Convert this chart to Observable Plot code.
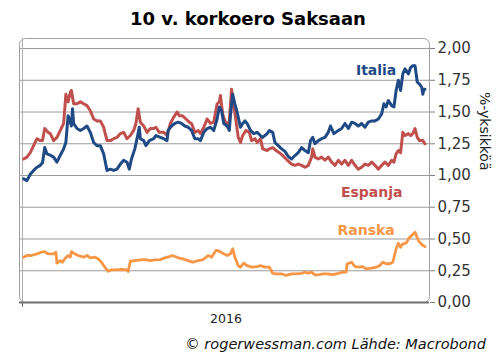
<!DOCTYPE html>
<html>
<head>
<meta charset="utf-8">
<script src="https://cdn.jsdelivr.net/npm/d3@7"></script>
<script src="https://cdn.jsdelivr.net/npm/@observablehq/plot@0.6"></script>
<style>
  html, body { margin: 0; padding: 0; background: #fff; }
  #wrap { width: 496px; height: 361px; position: relative; font-family: "DejaVu Sans", Verdana, sans-serif; }
  #title { height: 36px; line-height: 38px; text-align: center; font-weight: bold; font-size: 18px; color: #000; }
  #caption { height: 22px; line-height: 20px; text-align: right; font-style: italic; font-size: 14.5px; color: #111; padding-right: 10px; }
  svg { display: block; }
</style>
</head>
<body>
<div id="wrap">
  <div id="title">10 v. korkoero Saksaan</div>
  <div id="chart"></div>
  <div id="caption">© rogerwessman.com Lähde: Macrobond</div>
</div>
<script>
// Italia – Saksa, 10 v. korkoero (%-yksikköä)
const italiaDates = ["2016-01-02","2016-01-05","2016-01-08","2016-01-11","2016-01-14","2016-01-17","2016-01-19","2016-01-21","2016-01-23","2016-01-26","2016-01-29","2016-02-01","2016-02-04","2016-02-07","2016-02-09","2016-02-11","2016-02-12","2016-02-14","2016-02-15","2016-02-16","2016-02-19","2016-02-22","2016-02-25","2016-02-28","2016-03-02","2016-03-05","2016-03-08","2016-03-11","2016-03-14","2016-03-17","2016-03-20","2016-03-23","2016-03-26","2016-03-29","2016-04-01","2016-04-04","2016-04-06","2016-04-08","2016-04-11","2016-04-13","2016-04-15","2016-04-16","2016-04-19","2016-04-21","2016-04-24","2016-04-28","2016-04-30","2016-05-04","2016-05-07","2016-05-10","2016-05-11","2016-05-14","2016-05-17","2016-05-20","2016-05-23","2016-05-26","2016-05-29","2016-06-01","2016-06-04","2016-06-07","2016-06-09","2016-06-12","2016-06-15","2016-06-18","2016-06-21","2016-06-24","2016-06-26","2016-06-28","2016-06-30","2016-07-03","2016-07-05","2016-07-06","2016-07-08","2016-07-10","2016-07-12","2016-07-15","2016-07-17","2016-07-19","2016-07-21","2016-07-24","2016-07-27","2016-07-30","2016-08-02","2016-08-04","2016-08-08","2016-08-10","2016-08-13","2016-08-15","2016-08-18","2016-08-21","2016-08-24","2016-08-27","2016-08-30","2016-09-02","2016-09-05","2016-09-08","2016-09-11","2016-09-14","2016-09-16","2016-09-18","2016-09-20","2016-09-23","2016-09-26","2016-09-29","2016-10-02","2016-10-04","2016-10-07","2016-10-11","2016-10-14","2016-10-17","2016-10-20","2016-10-23","2016-10-26","2016-10-29","2016-11-01","2016-11-04","2016-11-07","2016-11-10","2016-11-13","2016-11-16","2016-11-19","2016-11-21","2016-11-23","2016-11-25","2016-11-28","2016-11-30","2016-12-02","2016-12-04","2016-12-06","2016-12-08","2016-12-10","2016-12-13","2016-12-15","2016-12-17","2016-12-19","2016-12-21","2016-12-23","2016-12-25","2016-12-26","2016-12-27","2016-12-28"];
const italiaValues = [0.974,0.96,1.01,1.04,1.065,1.08,1.10,1.22,1.17,1.16,1.145,1.105,1.16,1.21,1.26,1.47,1.45,1.39,1.525,1.41,1.37,1.355,1.37,1.39,1.34,1.26,1.235,1.235,1.17,1.04,1.05,1.04,1.05,1.09,1.12,1.105,1.05,1.13,1.21,1.29,1.38,1.29,1.275,1.235,1.275,1.29,1.315,1.30,1.29,1.275,1.355,1.39,1.41,1.42,1.41,1.39,1.38,1.355,1.29,1.29,1.275,1.34,1.37,1.38,1.355,1.445,1.54,1.51,1.41,1.39,1.355,1.47,1.64,1.565,1.50,1.38,1.41,1.43,1.41,1.355,1.33,1.34,1.315,1.30,1.33,1.355,1.34,1.26,1.235,1.21,1.19,1.15,1.13,1.157,1.18,1.22,1.197,1.18,1.275,1.30,1.25,1.275,1.29,1.30,1.34,1.39,1.33,1.355,1.37,1.41,1.37,1.42,1.41,1.39,1.41,1.38,1.42,1.43,1.43,1.445,1.485,1.565,1.54,1.59,1.55,1.54,1.67,1.75,1.67,1.80,1.84,1.80,1.85,1.865,1.865,1.735,1.72,1.695,1.64,1.68,1.68];

// Espanja – Saksa
const espanjaDates = ["2016-01-02","2016-01-05","2016-01-08","2016-01-11","2016-01-14","2016-01-17","2016-01-19","2016-01-21","2016-01-24","2016-01-26","2016-01-29","2016-02-01","2016-02-04","2016-02-07","2016-02-09","2016-02-11","2016-02-13","2016-02-14","2016-02-16","2016-02-19","2016-02-22","2016-02-25","2016-02-28","2016-03-02","2016-03-05","2016-03-08","2016-03-11","2016-03-14","2016-03-17","2016-03-20","2016-03-23","2016-03-26","2016-03-29","2016-04-01","2016-04-04","2016-04-07","2016-04-10","2016-04-12","2016-04-14","2016-04-16","2016-04-19","2016-04-22","2016-04-25","2016-04-28","2016-04-30","2016-05-03","2016-05-07","2016-05-10","2016-05-13","2016-05-16","2016-05-19","2016-05-21","2016-05-24","2016-05-27","2016-05-30","2016-06-01","2016-06-04","2016-06-07","2016-06-09","2016-06-12","2016-06-15","2016-06-18","2016-06-21","2016-06-24","2016-06-26","2016-06-27","2016-06-29","2016-07-01","2016-07-03","2016-07-05","2016-07-07","2016-07-09","2016-07-11","2016-07-13","2016-07-15","2016-07-17","2016-07-20","2016-07-23","2016-07-25","2016-07-28","2016-07-30","2016-08-02","2016-08-04","2016-08-08","2016-08-10","2016-08-13","2016-08-16","2016-08-19","2016-08-22","2016-08-25","2016-08-28","2016-08-30","2016-09-02","2016-09-05","2016-09-08","2016-09-11","2016-09-14","2016-09-17","2016-09-18","2016-09-20","2016-09-23","2016-09-26","2016-09-29","2016-10-02","2016-10-05","2016-10-08","2016-10-11","2016-10-14","2016-10-17","2016-10-20","2016-10-23","2016-10-26","2016-10-29","2016-11-01","2016-11-04","2016-11-07","2016-11-10","2016-11-13","2016-11-16","2016-11-19","2016-11-22","2016-11-25","2016-11-28","2016-11-30","2016-12-02","2016-12-04","2016-12-06","2016-12-08","2016-12-10","2016-12-13","2016-12-15","2016-12-17","2016-12-19","2016-12-21","2016-12-23","2016-12-26","2016-12-28"];
const espanjaValues = [1.13,1.145,1.18,1.235,1.29,1.275,1.275,1.37,1.34,1.33,1.275,1.30,1.355,1.41,1.64,1.58,1.655,1.67,1.565,1.565,1.58,1.565,1.55,1.51,1.445,1.43,1.43,1.38,1.275,1.275,1.29,1.30,1.33,1.34,1.29,1.315,1.355,1.41,1.525,1.42,1.39,1.34,1.37,1.37,1.38,1.34,1.34,1.315,1.41,1.46,1.50,1.47,1.47,1.445,1.42,1.41,1.34,1.355,1.33,1.38,1.445,1.41,1.42,1.565,1.58,1.63,1.485,1.43,1.39,1.43,1.68,1.55,1.43,1.30,1.26,1.315,1.355,1.34,1.275,1.29,1.26,1.29,1.21,1.197,1.21,1.22,1.197,1.18,1.157,1.13,1.105,1.09,1.08,1.09,1.08,1.065,1.08,1.145,1.21,1.145,1.13,1.145,1.12,1.145,1.105,1.08,1.12,1.09,1.12,1.08,1.12,1.08,1.05,1.065,1.09,1.08,1.105,1.08,1.05,1.08,1.105,1.08,1.12,1.105,1.17,1.197,1.18,1.34,1.315,1.33,1.315,1.33,1.37,1.30,1.275,1.275,1.25];

// Ranska – Saksa
const ranskaDates = ["2016-01-02","2016-01-05","2016-01-09","2016-01-14","2016-01-18","2016-01-21","2016-01-24","2016-01-29","2016-01-31","2016-02-01","2016-02-04","2016-02-06","2016-02-08","2016-02-11","2016-02-13","2016-02-14","2016-02-17","2016-02-20","2016-02-25","2016-02-28","2016-03-02","2016-03-06","2016-03-09","2016-03-12","2016-03-15","2016-03-18","2016-03-21","2016-03-26","2016-03-30","2016-04-04","2016-04-05","2016-04-07","2016-04-11","2016-04-16","2016-04-20","2016-04-25","2016-04-29","2016-05-04","2016-05-08","2016-05-12","2016-05-15","2016-05-20","2016-05-24","2016-05-29","2016-06-02","2016-06-07","2016-06-11","2016-06-16","2016-06-19","2016-06-23","2016-06-26","2016-06-30","2016-07-03","2016-07-06","2016-07-08","2016-07-10","2016-07-13","2016-07-15","2016-07-18","2016-07-21","2016-07-25","2016-07-30","2016-08-02","2016-08-06","2016-08-10","2016-08-13","2016-08-16","2016-08-21","2016-08-25","2016-08-30","2016-09-03","2016-09-08","2016-09-11","2016-09-14","2016-09-17","2016-09-20","2016-09-23","2016-09-27","2016-10-02","2016-10-06","2016-10-11","2016-10-15","2016-10-18","2016-10-19","2016-10-23","2016-10-26","2016-10-30","2016-11-02","2016-11-05","2016-11-10","2016-11-14","2016-11-17","2016-11-20","2016-11-23","2016-11-26","2016-11-29","2016-12-02","2016-12-04","2016-12-06","2016-12-08","2016-12-11","2016-12-13","2016-12-16","2016-12-19","2016-12-22","2016-12-25","2016-12-28"];
const ranskaValues = [0.357,0.37,0.37,0.383,0.396,0.40,0.383,0.383,0.396,0.31,0.33,0.317,0.344,0.37,0.357,0.40,0.383,0.37,0.357,0.37,0.352,0.357,0.344,0.317,0.278,0.246,0.257,0.257,0.26,0.257,0.244,0.325,0.33,0.336,0.338,0.33,0.336,0.338,0.352,0.362,0.37,0.352,0.344,0.33,0.317,0.33,0.336,0.37,0.357,0.41,0.404,0.383,0.37,0.383,0.423,0.357,0.29,0.278,0.31,0.29,0.278,0.283,0.29,0.278,0.278,0.23,0.226,0.226,0.213,0.226,0.226,0.23,0.239,0.23,0.239,0.218,0.218,0.226,0.226,0.22,0.23,0.239,0.239,0.305,0.317,0.283,0.278,0.283,0.265,0.27,0.278,0.29,0.317,0.305,0.305,0.317,0.423,0.467,0.435,0.462,0.467,0.50,0.528,0.554,0.488,0.457,0.44];

const yTicks = [0, 0.25, 0.5, 0.75, 1.0, 1.25, 1.5, 1.75, 2.0];
const xLabel = "2016";
const yLabel = "%-yksikköä";
const seriesNames = ["Italia", "Espanja", "Ranska"];
const seriesColors = ["#1f4a85", "#c0504d", "#f79646"];
// series label anchor points (date, value)
const labelDates = ["2016-11-14", "2016-11-10", "2016-11-05"];
const labelValues = [1.83, 0.866, 0.565];

const parse = d3.utcParse("%Y-%m-%d");
const toRows = (dates, values, name) => dates.map((d, i) => ({date: parse(d), value: values[i], series: name}));
const italia = toRows(italiaDates, italiaValues, "Italia");
const espanja = toRows(espanjaDates, espanjaValues, "Espanja");
const ranska = toRows(ranskaDates, ranskaValues, "Ranska");
const labels = seriesNames.map((s, i) => ({series: s, date: parse(labelDates[i]), value: labelValues[i], color: seriesColors[i]}));

const fmt = v => d3.format(".2f")(v).replace(".", ",");
const x0 = new Date(Date.UTC(2016, 0, 1));
const x1 = new Date(Date.UTC(2017, 0, 1));
const xMid = new Date(Date.UTC(2016, 6, 2));

const chart = Plot.plot({
  width: 496,
  height: 298,
  marginTop: 2,
  marginBottom: 32,
  marginLeft: 19,
  marginRight: 67,
  style: {fontFamily: "DejaVu Sans, Verdana, sans-serif", background: "#fff", overflow: "visible"},
  x: {type: "utc", domain: [x0, x1], insetLeft: 3},
  y: {domain: [0, 2.079]},
  marks: [
    Plot.gridY(yTicks.slice(1), {stroke: "#9a9a9a", strokeOpacity: 1, strokeWidth: 1}),
    Plot.frame({stroke: "#a0a0a0", rx: 6}),
    Plot.ruleX([x0], {stroke: "#b0b0b0"}),
    Plot.line(ranska, {x: "date", y: "value", stroke: seriesColors[2], strokeWidth: 2.8}),
    Plot.line(espanja, {x: "date", y: "value", stroke: seriesColors[1], strokeWidth: 3}),
    Plot.line(italia, {x: "date", y: "value", stroke: seriesColors[0], strokeWidth: 3}),
    Plot.ruleY([0], {stroke: "#707070", strokeWidth: 2}),
    Plot.axisY({anchor: "right", ticks: yTicks, tickFormat: fmt, tickSize: 5, tickPadding: 3, fontSize: 15, label: null, stroke: "#808080", color: "#333"}),
    Plot.axisX({ticks: [x0], tickFormat: () => "", tickSize: 5, label: null, stroke: "#707070"}),
    Plot.axisX({ticks: [xMid], tickFormat: () => xLabel, tickSize: 0, tickPadding: 12, fontSize: 12.5, label: null, color: "#222"}),
    Plot.text([yLabel], {frameAnchor: "right", dx: 55, rotate: 90, fontSize: 14, fill: "#222"}),
    Plot.text(labels, {x: "date", y: "value", text: "series", fill: "color", fontWeight: "bold", fontSize: 14})
  ]
});
document.getElementById("chart").appendChild(chart);
</script>
</body>
</html>
